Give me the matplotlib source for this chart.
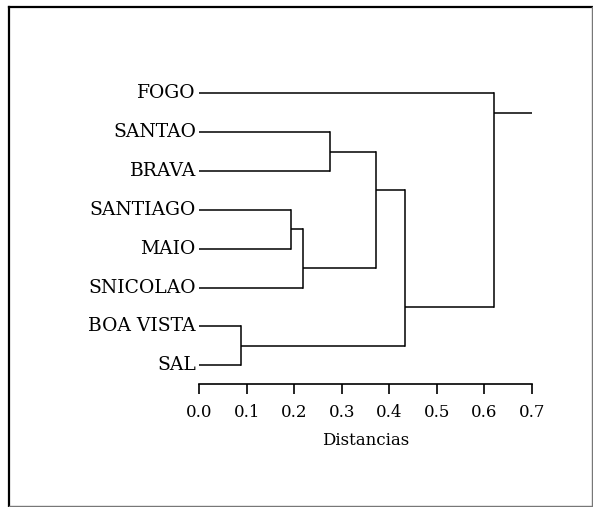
#!/usr/bin/env python3
# -*- coding: utf-8 -*-

from __future__ import annotations
import matplotlib
matplotlib.use("Agg")
import matplotlib.pyplot as plt
import matplotlib.transforms as mtransforms
from matplotlib.lines import Line2D

# leaves in display order (top to bottom)
leaves = ["FOGO", "SANTAO", "BRAVA", "SANTIAGO", "MAIO", "SNICOLAO", "BOA VISTA", "SAL"]

# merges: node ids 0..7 are the leaves, each merge creates the next id (8, 9, ...)
merge_top = [6, 3, 9, 1, 11, 12, 0]
merge_bottom = [7, 4, 5, 2, 10, 8, 13]
merge_dist = [0.0875, 0.1925, 0.218, 0.275, 0.3715, 0.434, 0.62]
root_end = 0.70

xticks = [0.0, 0.1, 0.2, 0.3, 0.4, 0.5, 0.6, 0.7]
xlabel = "Distancias"


def main() -> None:
    plt.rcParams["font.family"] = ["DejaVu Serif"]

    W, H = 593, 507
    fig = plt.figure(figsize=(W / 100, H / 100), dpi=100)
    fig.patch.set_facecolor("white")

    # axes placed in pixel terms: x 0..0.7 -> 199..532 px, leaves 93..366 px
    x0, x1 = 199.3, 531.7
    y_top, y_bot = 73.8, 384.3
    ax = fig.add_axes([x0 / W, 1 - y_bot / H, (x1 - x0) / W, (y_bot - y_top) / H])

    n = len(leaves)
    # span of leaf indices and stub position for every node
    lo = {i: i for i in range(n)}
    hi = {i: i for i in range(n)}
    ypos = {i: float(i) for i in range(n)}
    xpos = {i: 0.0 for i in range(n)}

    lw = 1.1
    for k, (a, b, d) in enumerate(zip(merge_top, merge_bottom, merge_dist)):
        node = n + k
        ax.plot([xpos[a], d], [ypos[a], ypos[a]], color="black", lw=lw, solid_capstyle="butt")
        ax.plot([xpos[b], d], [ypos[b], ypos[b]], color="black", lw=lw, solid_capstyle="butt")
        ax.plot([d, d], [ypos[a], ypos[b]], color="black", lw=lw, solid_capstyle="projecting")
        lo[node] = min(lo[a], lo[b])
        hi[node] = max(hi[a], hi[b])
        # stub sits on the split between the two child groups
        ypos[node] = (hi[a] + lo[b]) / 2
        xpos[node] = d

    root = n + len(merge_dist) - 1
    ax.plot([xpos[root], root_end], [ypos[root], ypos[root]], color="black", lw=lw,
            solid_capstyle="butt")

    off = mtransforms.offset_copy(ax.transData, fig=fig, x=-2.5, y=0, units="points")
    for i, name in enumerate(leaves):
        ax.text(0, i, name, transform=off, ha="right", va="center", fontsize=13.5,
                color="black")

    ax.set_xlim(0, 0.7)
    ax.set_ylim(7.49, -0.5)
    ax.set_xticks(xticks)
    ax.set_xticklabels([f"{t:.1f}" for t in xticks])
    ax.set_yticks([])
    for s in ("top", "right", "left"):
        ax.spines[s].set_visible(False)
    ax.spines["bottom"].set_linewidth(1.2)
    ax.tick_params(axis="x", direction="out", length=7, width=1.2, pad=7, labelsize=12)
    ax.set_xlabel(xlabel, fontsize=12, labelpad=8)
    ax.patch.set_alpha(0)

    # outer frame
    fig.add_artist(Line2D([9 / W, 9 / W], [1 - 7 / H, 1 - 506 / H], color="black", lw=1.6,
                          transform=fig.transFigure))
    fig.add_artist(Line2D([9 / W, 592 / W], [1 - 7 / H, 1 - 7 / H], color="black", lw=1.6,
                          transform=fig.transFigure))
    fig.add_artist(Line2D([9 / W, 592 / W], [1 - 505.5 / H, 1 - 505.5 / H], color="#777777",
                          lw=1.0, transform=fig.transFigure))
    fig.add_artist(Line2D([592 / W, 592 / W], [1 - 7 / H, 1 - 506 / H], color="#777777",
                          lw=1.0, transform=fig.transFigure))

    fig.savefig("out.png", dpi=100)
    plt.close(fig)


if __name__ == "__main__":
    main()
